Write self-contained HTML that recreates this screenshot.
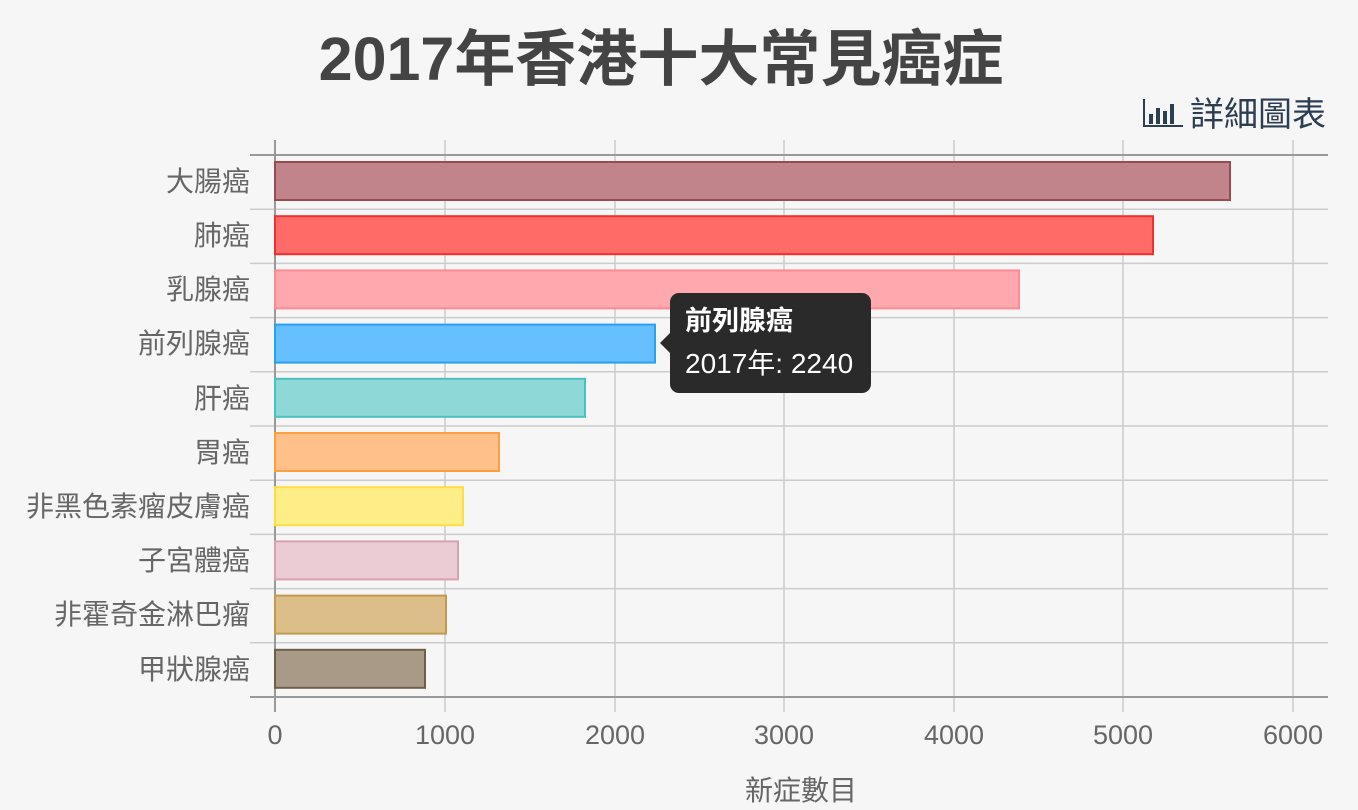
<!DOCTYPE html>
<html><head><meta charset="utf-8"><style>
body{margin:0;background:#f6f6f7;}
svg{display:block;font-family:"Liberation Sans","Noto Sans CJK TC",sans-serif;}
</style></head><body>
<svg width="1358" height="810" viewBox="0 0 1358 810">
<rect width="1358" height="810" fill="#f6f6f7"/>
<text x="661" y="80" text-anchor="middle" font-size="61" font-weight="bold" fill="#444">2017年香港十大常見癌症</text>
<g fill="#2c3e50">
<rect x="1143" y="99" width="2" height="28"/><rect x="1143" y="125" width="40" height="2"/>
<rect x="1149" y="114" width="4" height="10"/><rect x="1156" y="108" width="4" height="16"/><rect x="1163" y="111" width="4" height="13"/><rect x="1170" y="104" width="4" height="20"/>
</g>
<text x="1326" y="126" text-anchor="end" font-size="34" fill="#2c3e50">詳細圖表</text>
<g stroke="#ccc" stroke-width="1.5">
<line x1="250" y1="209.2" x2="1328" y2="209.2"/><line x1="250" y1="263.4" x2="1328" y2="263.4"/>
<line x1="250" y1="317.6" x2="1328" y2="317.6"/><line x1="250" y1="371.8" x2="1328" y2="371.8"/>
<line x1="250" y1="426" x2="1328" y2="426"/><line x1="250" y1="480.2" x2="1328" y2="480.2"/>
<line x1="250" y1="534.4" x2="1328" y2="534.4"/><line x1="250" y1="588.6" x2="1328" y2="588.6"/>
<line x1="250" y1="642.8" x2="1328" y2="642.8"/>
<line x1="445" y1="140" x2="445" y2="712"/><line x1="615" y1="140" x2="615" y2="712"/>
<line x1="784" y1="140" x2="784" y2="712"/><line x1="954" y1="140" x2="954" y2="712"/>
<line x1="1123" y1="140" x2="1123" y2="712"/><line x1="1293" y1="140" x2="1293" y2="712"/>
</g>
<g stroke="#999" stroke-width="2">
<line x1="250" y1="155" x2="1328" y2="155"/><line x1="250" y1="697" x2="1328" y2="697"/>
<line x1="275" y1="140" x2="275" y2="712"/>
</g>
<g stroke-width="2">
<rect x="275" y="162" width="955" height="38" fill="#c0848a" stroke="#9a4a52"/>
<rect x="275" y="216.2" width="878" height="38" fill="#ff6b66" stroke="#f03030"/>
<rect x="275" y="270.4" width="744" height="38" fill="#ffa8ae" stroke="#ff8a92"/>
<rect x="275" y="324.6" width="380" height="38" fill="#66bfff" stroke="#2aa0f0"/>
<rect x="275" y="378.8" width="310" height="38" fill="#8fd8d8" stroke="#4bc0c0"/>
<rect x="275" y="433" width="224" height="38" fill="#ffc08a" stroke="#ff9f40"/>
<rect x="275" y="487.2" width="188" height="38" fill="#ffee88" stroke="#ffdd44"/>
<rect x="275" y="541.4" width="183" height="38" fill="#ecccd4" stroke="#d9a0b0"/>
<rect x="275" y="595.6" width="171" height="38" fill="#dcbf88" stroke="#c09a50"/>
<rect x="275" y="649.8" width="150" height="38" fill="#a89a86" stroke="#6e6048"/>
</g>
<g font-size="28" fill="#666" text-anchor="end">
<text x="250" y="191">大腸癌</text><text x="250" y="245">肺癌</text><text x="250" y="299">乳腺癌</text>
<text x="250" y="353">前列腺癌</text><text x="250" y="408">肝癌</text><text x="250" y="462">胃癌</text>
<text x="250" y="516">非黑色素瘤皮膚癌</text><text x="250" y="570">子宮體癌</text><text x="250" y="624">非霍奇金淋巴瘤</text>
<text x="250" y="679">甲狀腺癌</text>
</g>
<g font-size="27" fill="#666" text-anchor="middle">
<text x="275" y="744">0</text><text x="445" y="744">1000</text><text x="615" y="744">2000</text>
<text x="784" y="744">3000</text><text x="954" y="744">4000</text><text x="1123" y="744">5000</text><text x="1293" y="744">6000</text>
<text x="801" y="800" font-size="28">新症數目</text>
</g>
<rect x="670" y="293" width="201" height="100" rx="9" fill="#2a2a2a"/>
<polygon points="660,343 671,332 671,354" fill="#2a2a2a"/>
<text x="685" y="330" font-size="27" font-weight="bold" fill="#fff">前列腺癌</text>
<text x="685" y="373" font-size="28" fill="#fff">2017年: 2240</text>
</svg>
</body></html>
